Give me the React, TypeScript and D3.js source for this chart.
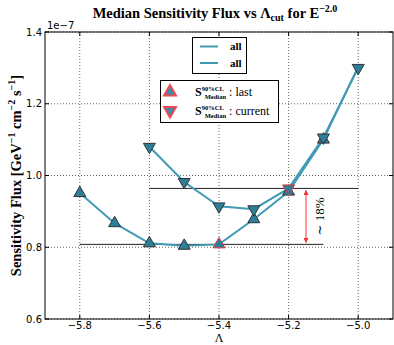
import React from "react";
import * as d3 from "d3";

const lambdaLast = [-5.8, -5.7, -5.6, -5.5, -5.4, -5.3, -5.2, -5.1, -5.0];
const fluxLast = [0.951, 0.867, 0.811, 0.804, 0.808, 0.878, 0.955, 1.1, 1.303];
const lambdaCurrent = [-5.6, -5.5, -5.4, -5.3, -5.2, -5.1, -5.0];
const fluxCurrent = [1.08, 0.982, 0.914, 0.906, 0.964, 1.106, 1.3];
const bestLastIndex = 4;
const bestCurrentIndex = 4;
const lastRefRange = [-5.8, -5.1];
const currentRefRange = [-5.6, -5.0];
const arrowLambda = -5.15;
const xTicks = [-5.8, -5.6, -5.4, -5.2, -5.0];
const yTicks = [0.6, 0.8, 1.0, 1.2, 1.4];
const legendLabels = ["all", "all"];

const W = 394, H = 345;
const M = { left: 45, right: 393, top: 32, bottom: 319 };
const lineColor = "#409ab3";
const markerFill = "#2d7e99";
const serif = "'Liberation Serif', 'DejaVu Serif', serif";
const sans = "'DejaVu Sans', sans-serif";

export default function App() {
  const x = d3.scaleLinear().domain([-5.9, -4.9]).range([M.left, M.right]);
  const y = d3.scaleLinear().domain([0.6, 1.4]).range([M.bottom, M.top]);
  const line = d3.line<[number, number]>().x(d => x(d[0])).y(d => y(d[1]));
  const tri = d3.symbol().type(d3.symbolTriangle).size(62)();
  const lastPts: [number, number][] = lambdaLast.map((l, i) => [l, fluxLast[i]]);
  const curPts: [number, number][] = lambdaCurrent.map((l, i) => [l, fluxCurrent[i]]);
  const lastRef = fluxLast[bestLastIndex];
  const curRef = fluxCurrent[bestCurrentIndex];
  const fmt = d3.format(".1f");
  const tickFmt = (v: number) => fmt(v).replace("-", "\u2212");
  // markers of "last" hidden where the "current" marker sits on the same point
  const hiddenLast = new Set(lambdaLast.map((l, i) => (i === lambdaLast.length - 1 ? i : -1)));

  return (
    <svg width={W} height={H} style={{ position: "absolute", left: 0, top: 0, background: "#fff" }}>
      <defs>
        <marker id="ah" viewBox="0 0 10 10" refX="9" refY="5" markerWidth="5" markerHeight="5" orient="auto-start-reverse">
          <path d="M0,0 L10,5 L0,10 z" fill="#ff2a2a" />
        </marker>
      </defs>
      {/* title */}
      <text x={215} y={18} textAnchor="middle" fontFamily={serif} fontWeight="bold" fontSize={14.5}>
        Median Sensitivity Flux vs Λ<tspan fontSize={10} dy={3}>cut</tspan>
        <tspan dy={-3}> for E</tspan>
        <tspan fontSize={10} dy={-6}>−2.0</tspan>
      </text>
      {/* grid */}
      {xTicks.map(t => (
        <line key={"gx" + t} x1={x(t)} x2={x(t)} y1={M.top} y2={M.bottom} stroke="#000" strokeWidth={0.6} strokeDasharray="1,2" />
      ))}
      {yTicks.map(t => (
        <line key={"gy" + t} x1={M.left} x2={M.right} y1={y(t)} y2={y(t)} stroke="#000" strokeWidth={0.6} strokeDasharray="1,2" />
      ))}
      {/* reference lines */}
      <line x1={x(lastRefRange[0])} x2={x(lastRefRange[1])} y1={y(lastRef)} y2={y(lastRef)} stroke="#222" strokeWidth={1} />
      <line x1={x(currentRefRange[0])} x2={x(currentRefRange[1])} y1={y(curRef)} y2={y(curRef)} stroke="#222" strokeWidth={1} />
      {/* series lines */}
      <path d={line(lastPts) || ""} fill="none" stroke={lineColor} strokeWidth={2} />
      <path d={line(curPts) || ""} fill="none" stroke={lineColor} strokeWidth={2} />
      {lastPts.map((p, i) => hiddenLast.has(i) ? null : (
        <path key={"ml" + i} d={tri || ""} transform={`translate(${x(p[0])},${y(p[1])})`}
          fill={markerFill} stroke={i === bestLastIndex ? "#e8333a" : "#333"} strokeWidth={1} />
      ))}
      {curPts.map((p, i) => (
        <path key={"mc" + i} d={tri || ""} transform={`translate(${x(p[0])},${y(p[1])}) rotate(180)`}
          fill={markerFill} stroke={i === bestCurrentIndex ? "#e8333a" : "#333"} strokeWidth={1} />
      ))}
      {/* arrow */}
      <line x1={x(arrowLambda)} x2={x(arrowLambda)} y1={y(curRef) + 2} y2={y(lastRef) - 2}
        stroke="#ff2a2a" strokeWidth={1} markerStart="url(#ah)" markerEnd="url(#ah)" />
      <text transform={`translate(${x(arrowLambda) + 18},${(y(curRef) + y(lastRef)) / 2}) rotate(-90)`}
        textAnchor="middle" fontFamily={serif} fontSize={13}>∼ 18%</text>
      {/* frame */}
      <rect x={M.left} y={M.top} width={M.right - M.left} height={M.bottom - M.top} fill="none" stroke="#000" strokeWidth={1} />
      {xTicks.map(t => (
        <g key={"tx" + t}>
          <line x1={x(t)} x2={x(t)} y1={M.bottom} y2={M.bottom - 4} stroke="#000" />
          <line x1={x(t)} x2={x(t)} y1={M.top} y2={M.top + 4} stroke="#000" />
          <text x={x(t)} y={M.bottom + 10} textAnchor="middle" fontFamily={sans} fontSize={10} fill="#000">{tickFmt(t)}</text>
        </g>
      ))}
      {yTicks.map(t => (
        <g key={"ty" + t}>
          <line x1={M.left} x2={M.left + 4} y1={y(t)} y2={y(t)} stroke="#000" />
          <line x1={M.right} x2={M.right - 4} y1={y(t)} y2={y(t)} stroke="#000" />
          <text x={M.left - 3} y={y(t) + 3.5} textAnchor="end" fontFamily={sans} fontSize={10} fill="#000">{tickFmt(t)}</text>
        </g>
      ))}
      <text x={M.left + 2} y={29} fontFamily={sans} fontSize={10}>1e−7</text>
      {/* axis labels */}
      <text x={219} y={342} textAnchor="middle" fontFamily={serif} fontSize={12}>Λ</text>
      <text transform={`translate(21,${(M.top + M.bottom) / 2}) rotate(-90)`} textAnchor="middle"
        fontFamily={serif} fontWeight="bold" fontSize={14.5}>
        Sensitivity Flux [GeV<tspan fontSize={10} dy={-6}>−1</tspan>
        <tspan dy={6}> cm</tspan><tspan fontSize={10} dy={-6}>−2</tspan>
        <tspan dy={6}> s</tspan><tspan fontSize={10} dy={-6}>−1</tspan>
        <tspan dy={6}>]</tspan>
      </text>
      {/* legend 1 */}
      <rect x={192.5} y={37.5} width={54} height={36} fill="#fff" stroke="#000" strokeWidth={1} />
      {legendLabels.map((lab, i) => (
        <g key={"lg" + i}>
          <line x1={200} x2={218} y1={46.5 + i * 16.5} y2={46.5 + i * 16.5} stroke={lineColor} strokeWidth={2} />
          <text x={230} y={50 + i * 16.5} fontFamily={serif} fontWeight="bold" fontSize={11}>{lab}</text>
        </g>
      ))}
      {/* legend 2 */}
      <rect x={160.5} y={80.5} width={118} height={42} fill="#fff" stroke="#000" strokeWidth={1} />
      {["last", "current"].map((lab, i) => (
        <g key={"lm" + i}>
          <path d={tri || ""} transform={`translate(170,${92 + i * 18.5})${i === 1 ? " rotate(180)" : ""}`}
            fill="#3a8da8" stroke="#f04850" strokeWidth={2} />
          <text x={195} y={96 + i * 18.5} fontFamily={serif} fontSize={12}>
            <tspan fontWeight="bold">S</tspan>
            <tspan fontWeight="bold" fontSize={6.5} dy={-5}>90%CL</tspan>
            <tspan fontWeight="bold" fontSize={6.5} dx={-19} dy={8}>Median</tspan>
            <tspan dy={-3}> : {lab}</tspan>
          </text>
        </g>
      ))}
    </svg>
  );
}
